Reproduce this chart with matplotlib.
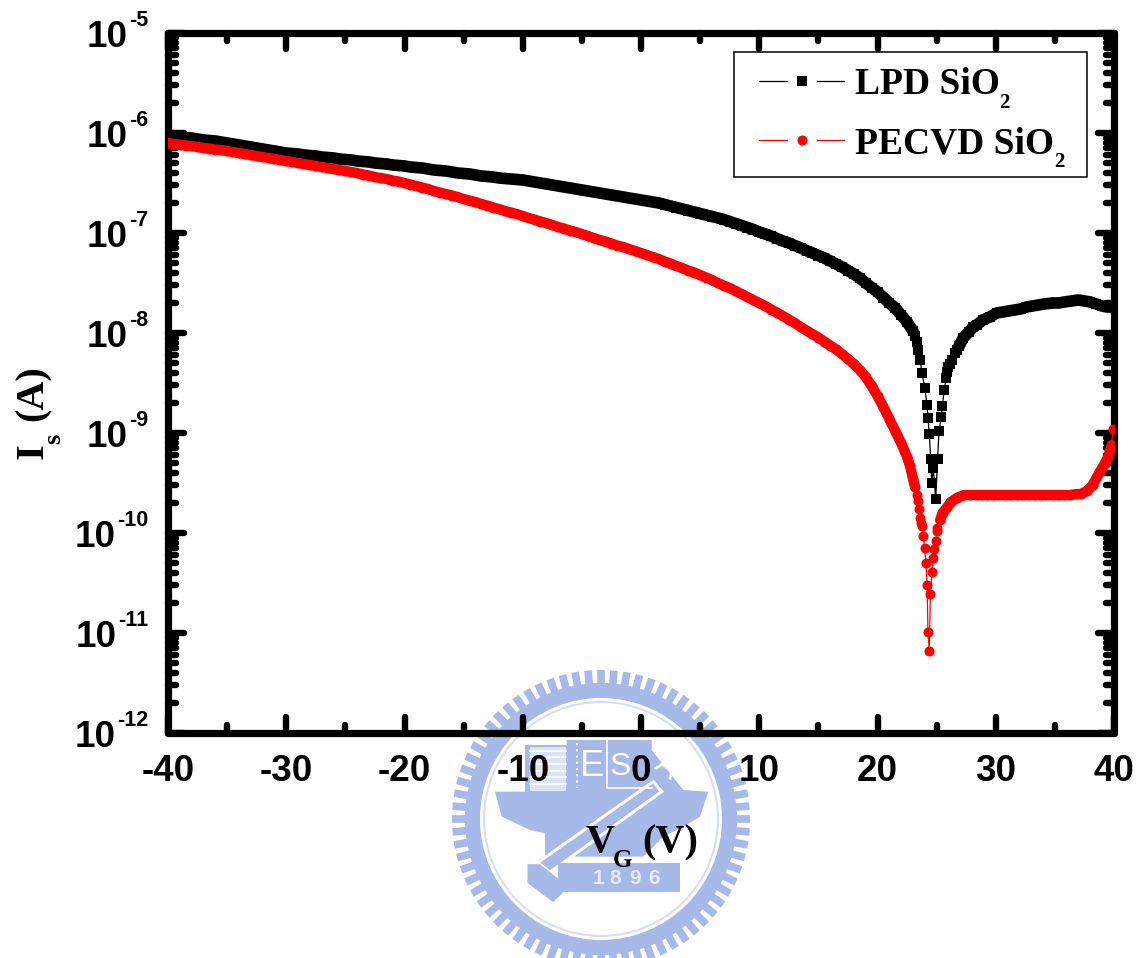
import numpy as np
import matplotlib
matplotlib.use('Agg')
import matplotlib.pyplot as plt
from matplotlib.lines import Line2D
from matplotlib.markers import MarkerStyle
from matplotlib.patches import Circle, Polygon, Rectangle
from matplotlib.ticker import FixedLocator, NullFormatter

W, H = 1142, 958
SANS = 'Liberation Sans'
SERIF = 'Liberation Serif'
BLUE = '#a6b9e8'

# gate sweep shared by both curves up to +20 V
vg_sweep = [-40, -39.5, -39, -38.5, -38, -37.5, -37, -36.5, -36, -35.5, -35, -34.5, -34, -33.5, -33, -32.5,
            -32, -31.5, -31, -30.5, -30, -29.5, -29, -28.5, -28, -27.5, -27, -26.5, -26, -25.5, -25, -24.5,
            -24, -23.5, -23, -22.5, -22, -21.5, -21, -20.5, -20, -19.5, -19, -18.5, -18, -17.5, -17, -16.5,
            -16, -15.5, -15, -14.5, -14, -13.5, -13, -12.5, -12, -11.5, -11, -10.5, -10, -9.5, -9, -8.5,
            -8, -7.5, -7, -6.5, -6, -5.5, -5, -4.5, -4, -3.5, -3, -2.5, -2, -1.5, -1, -0.5,
            0, 0.5, 1, 1.5, 2, 2.5, 3, 3.5, 4, 4.5, 5, 5.5, 6, 6.5, 7, 7.5,
            8, 8.5, 9, 9.5, 10, 10.5, 11, 11.5, 12, 12.5, 13, 13.5, 14, 14.5, 15, 15.5,
            16, 16.5, 17, 17.5, 18, 18.5, 19, 19.5, 20]

# values as log10(I) because the axis is decades
lpd_log = [-6.02, -6.03, -6.04, -6.045, -6.05, -6.06, -6.07, -6.075, -6.08, -6.09, -6.10, -6.11, -6.12, -6.13, -6.14, -6.15,
           -6.16, -6.17, -6.18, -6.19, -6.20, -6.205, -6.21, -6.22, -6.225, -6.23, -6.24, -6.245, -6.25, -6.26, -6.265, -6.27,
           -6.28, -6.285, -6.29, -6.30, -6.305, -6.31, -6.32, -6.325, -6.33, -6.34, -6.345, -6.35, -6.36, -6.37, -6.375, -6.38,
           -6.39, -6.40, -6.405, -6.41, -6.42, -6.43, -6.435, -6.44, -6.45, -6.455, -6.46, -6.465, -6.47, -6.48, -6.49, -6.50,
           -6.51, -6.52, -6.53, -6.54, -6.55, -6.56, -6.57, -6.58, -6.59, -6.60, -6.61, -6.62, -6.63, -6.64, -6.65, -6.66,
           -6.67, -6.68, -6.69, -6.70, -6.715, -6.73, -6.745, -6.76, -6.775, -6.79, -6.805, -6.82, -6.835, -6.85, -6.865, -6.885,
           -6.905, -6.925, -6.945, -6.965, -6.99, -7.01, -7.03, -7.055, -7.08, -7.10, -7.125, -7.15, -7.175, -7.20, -7.225, -7.25,
           -7.28, -7.31, -7.34, -7.375, -7.41, -7.45, -7.50, -7.545, -7.59]
lpd_vg_tail = [20.5, 21, 21.5, 22, 22.5, 23, 23.15, 23.3, 23.45, 23.6, 23.76, 24.0, 24.19, 24.27, 24.38, 24.5, 24.58, 24.72, 24.92,
               25.09, 25.2, 25.4, 25.48, 25.65, 25.8, 25.9, 25.99, 26.1, 26.3, 26.55, 26.7, 26.9, 27.25, 27.7, 28.1, 28.4, 28.9, 29.5, 30.08,
               30.6, 31.1, 31.6, 32.1, 32.6, 33.1, 33.6, 34.1, 34.8, 35.3, 35.8, 36.4, 37, 37.5, 38, 38.5, 39, 39.4, 39.7, 40]
lpd_log_tail = [-7.645, -7.70, -7.75, -7.82, -7.89, -7.98, -8.03, -8.09, -8.17, -8.27, -8.40, -8.55, -8.72, -8.85, -9.01, -9.26, -9.50, -9.35, -9.66,
                -9.26, -8.98, -8.84, -8.73, -8.57, -8.45, -8.39, -8.34, -8.31, -8.27, -8.20, -8.17, -8.13, -8.05, -7.99, -7.94, -7.92, -7.87, -7.84, -7.80,
                -7.79, -7.78, -7.77, -7.76, -7.74, -7.73, -7.72, -7.71, -7.70, -7.70, -7.69, -7.68, -7.67, -7.68, -7.69, -7.71, -7.73, -7.74, -7.74, -7.74]

pecvd_log = [-6.10, -6.11, -6.115, -6.125, -6.13, -6.14, -6.15, -6.155, -6.165, -6.17, -6.18, -6.19, -6.20, -6.21, -6.22, -6.23,
             -6.24, -6.25, -6.26, -6.27, -6.28, -6.29, -6.30, -6.31, -6.32, -6.33, -6.34, -6.35, -6.36, -6.37, -6.38, -6.39,
             -6.40, -6.415, -6.425, -6.44, -6.45, -6.46, -6.475, -6.485, -6.50, -6.515, -6.53, -6.545, -6.56, -6.58, -6.595, -6.61,
             -6.625, -6.64, -6.66, -6.675, -6.69, -6.71, -6.725, -6.745, -6.76, -6.78, -6.795, -6.81, -6.83, -6.85, -6.865, -6.885,
             -6.90, -6.92, -6.94, -6.955, -6.975, -6.99, -7.01, -7.03, -7.05, -7.07, -7.085, -7.105, -7.125, -7.14, -7.16, -7.18,
             -7.20, -7.22, -7.24, -7.26, -7.285, -7.305, -7.33, -7.35, -7.375, -7.395, -7.42, -7.445, -7.47, -7.50, -7.525, -7.55,
             -7.58, -7.61, -7.64, -7.67, -7.70, -7.73, -7.765, -7.795, -7.83, -7.865, -7.90, -7.94, -7.975, -8.01, -8.045, -8.085,
             -8.125, -8.165, -8.21, -8.26, -8.31, -8.37, -8.44, -8.53, -8.63]
pecvd_vg_tail = [20.5, 21, 21.5, 22, 22.5, 22.75, 23, 23.17, 23.3, 23.4, 23.5, 23.6, 23.7, 23.79, 23.87, 23.99, 24.1, 24.19, 24.27, 24.38,
                 24.47, 24.61, 24.72, 24.8, 24.92, 25.0, 25.06, 25.3, 25.5, 25.9, 26.2, 26.7, 27.3, 27.8, 28.3, 28.8, 29.3, 29.8,
                 30.3, 30.8, 31.3, 31.8, 32.3, 32.8, 33.3, 33.8, 34.3, 34.8, 35.3, 35.8, 36.3, 36.8, 37.2, 37.7, 38.2, 38.8,
                 39.2, 39.5, 39.7, 39.8, 39.9]
pecvd_log_tail = [-8.74, -8.86, -8.98, -9.10, -9.24, -9.33, -9.46, -9.54, -9.62, -9.68, -9.76, -9.85, -9.90, -9.93, -10.03, -10.15, -10.30, -10.52, -10.99, -11.18,
                  -10.61, -10.39, -10.25, -10.16, -10.08, -9.98, -9.95, -9.87, -9.80, -9.74, -9.69, -9.65, -9.62, -9.62, -9.62, -9.62, -9.62, -9.62,
                  -9.62, -9.62, -9.62, -9.62, -9.62, -9.62, -9.62, -9.62, -9.62, -9.62, -9.62, -9.62, -9.62, -9.61, -9.61, -9.58, -9.52, -9.39,
                  -9.31, -9.24, -9.17, -9.12, -8.96]

x_ticks = [-40, -30, -20, -10, 0, 10, 20, 30, 40]
x_minor = [-35, -25, -15, -5, 5, 15, 25, 35]
decades = [-12, -11, -10, -9, -8, -7, -6, -5]


def fx(x):
    return x / W


def fy(y):
    return 1 - y / H


def put(x, y, s, size, family=SERIF, **kw):
    return fig.text(fx(x), fy(y), s, fontsize=size, family=family, fontweight='bold',
                    va='baseline', color='black', **kw)


fig = plt.figure(figsize=(W / 100, H / 100), dpi=100)

# university watermark sits behind everything, drawn in pixel space
bg = fig.add_axes([0, 0, 1, 1], zorder=-1)
bg.set_xlim(0, W)
bg.set_ylim(H, 0)
bg.axis('off')
cx, cy = 601, 819


def z(x, y):
    # coordinates taken from the zoomed crop of the logo
    return 430 + x / 3, 660 + y / 3


bg.add_patch(Circle((cx, cy), 136, fc=BLUE, ec='none'))
bg.add_patch(Circle((cx, cy), 121, fc='white', ec='none'))
bg.add_patch(Circle((cx, cy), 117, fc='none', ec='#d5def4', lw=1.5))
for a in np.radians(np.arange(0, 360, 5)):
    bg.plot([cx + 134 * np.cos(a), cx + 149 * np.cos(a)], [cy + 134 * np.sin(a), cy + 149 * np.sin(a)],
            color=BLUE, lw=5.5, solid_capstyle='butt')

bowl = [(195, 395), (285, 395), (285, 255), (410, 255), (410, 240), (665, 240), (665, 270), (760, 390), (835, 395),
        (810, 470), (760, 500), (700, 530), (640, 590), (450, 590), (345, 590), (345, 520), (300, 510), (215, 470)]
bg.add_patch(Polygon([z(*p) for p in bowl], fc=BLUE, ec='none'))
bg.add_patch(Rectangle(z(300, 262), 36, 44, fc='#dbe3f6', ec='none'))
for yy in (272, 292, 312, 332, 352, 372):
    bg.plot(*zip(z(300, yy), z(408, yy)), color='white', lw=1.2)
bg.plot(*zip(z(440, 250), z(440, 385)), color='white', lw=1.5, ls=(0, (1, 2)))
bg.plot(*zip(z(530, 240), z(530, 385), z(665, 385)), color='white', lw=1.2)
bg.text(*z(487, 318), 'E', color='white', fontsize=26, family=SANS, ha='center', va='center')
bg.text(*z(570, 320), 'S', color='white', fontsize=23, family=SANS, ha='center', va='center')
bg.text(*z(708, 322), 'A', color='white', fontsize=23, family=SANS, ha='center', va='center', rotation=-35)
# diagonal bar and its handle
bar = [(320, 610), (670, 365), (695, 395), (355, 640)]
bg.add_patch(Polygon([z(*p) for p in bar], fc=BLUE, ec='white', lw=2.2))
handle = [(290, 610), (330, 610), (420, 680), (370, 730), (290, 670)]
bg.add_patch(Polygon([z(*p) for p in handle], fc=BLUE, ec='white', lw=1.2))
bg.add_patch(Rectangle(z(385, 610), (750 - 385) / 3, (695 - 610) / 3, fc=BLUE, ec='none'))
for xx, ch in zip((505, 557, 615, 672), '1896'):
    bg.text(*z(xx, 655), ch, color='#e6ebf8', fontsize=15, fontweight='bold', family=SANS, ha='center', va='center')

ax = fig.add_axes([168 / W, 1 - 733 / H, (1114 - 168) / W, (733 - 33) / H])
ax.patch.set_alpha(0)
ax.set_yscale('log')

lpd_vg = np.array(vg_sweep + lpd_vg_tail)
lpd_i = 10.0 ** np.array(lpd_log + lpd_log_tail)
pecvd_vg = np.array(vg_sweep + pecvd_vg_tail)
pecvd_i = 10.0 ** np.array(pecvd_log + pecvd_log_tail)

ax.plot(lpd_vg, lpd_i, '-', color='black', lw=0.9, marker='s', ms=6.7, mew=0, zorder=4)
ax.plot(pecvd_vg, pecvd_i, '-', color='red', lw=0.9, marker='o', ms=7.2, mew=0, zorder=5)

# the measured points are so dense they merge into a solid band away from the dip
ax.plot(lpd_vg, np.where((lpd_vg <= 23) | (lpd_vg >= 26.9), lpd_i, np.nan), color='black', lw=8.4,
        solid_capstyle='round', solid_joinstyle='round', zorder=4)
ax.plot(pecvd_vg, np.where((pecvd_vg <= 23.17) | ((pecvd_vg >= 25.3) & (pecvd_vg <= 39.8)), pecvd_i, np.nan),
        color='red', lw=7.4, solid_capstyle='round', solid_joinstyle='round', zorder=5)

ax.set_xlim(-40, 40)
ax.set_ylim(1e-12, 1e-5)
ax.xaxis.set_major_locator(FixedLocator(x_ticks))
ax.xaxis.set_minor_locator(FixedLocator(x_minor))
ax.yaxis.set_major_locator(FixedLocator([10.0 ** d for d in decades]))
ax.yaxis.set_minor_locator(FixedLocator([m * 10.0 ** d for d in decades[:-1] for m in range(2, 10)]))
ax.yaxis.set_major_formatter(NullFormatter())
ax.yaxis.set_minor_formatter(NullFormatter())
ax.set_xticklabels([str(t) for t in x_ticks], fontsize=26.5, fontweight='bold', family=SANS)
ax.tick_params(which='major', direction='in', length=11.5, width=4.6, top=True, right=True, pad=15)
ax.tick_params(which='minor', direction='in', length=5.8, width=4.6, top=True, right=True)
for s in ax.spines.values():
    s.set_linewidth(5.2)
    s.set_capstyle('round')

# origin style rounded tick ends
for axis in (ax.xaxis, ax.yaxis):
    for tick in axis.get_major_ticks() + axis.get_minor_ticks():
        for line in (tick.tick1line, tick.tick2line):
            line.set_marker(MarkerStyle(line.get_marker(), capstyle='round'))

# y tick labels: exponent right aligned, "10" butted up against it
fig.canvas.draw()
rend = fig.canvas.get_renderer()
for d in decades:
    y0 = 733 - (d + 12) * 100
    e = put(148, y0 - 6.5, str(d), 15.5, family=SANS, ha='right')
    left = e.get_window_extent(rend).x0
    put(left - 1, y0 + 14, '10', 26.5, family=SANS, ha='right')

# axis titles
put(585, 852, 'V', 29)
put(613, 867, 'G', 18)
put(642, 852, '(V)', 29)
put(43, 459, 'I', 29, rotation=90, rotation_mode='anchor')
put(60, 444, 's', 19, rotation=90, rotation_mode='anchor')
put(43, 421, '(A)', 29, rotation=90, rotation_mode='anchor')

# legend box
fig.add_artist(Rectangle((fx(734), fy(177)), 353 / W, 125 / H, transform=fig.transFigure,
                         fc='white', ec='black', lw=1.1, zorder=6))
for yy, col, mk, ms in ((81, 'black', 's', 6.7), (140, 'red', 'o', 7.2)):
    for a, b in ((759, 787), (817, 844)):
        fig.add_artist(Line2D([fx(a), fx(b)], [fy(yy), fy(yy)], color=col, lw=0.9, zorder=7))
    fig.add_artist(Line2D([fx(802)], [fy(yy)], color=col, marker=mk, ms=ms, mew=0, zorder=7))
for t in [put(855, 94, 'LPD SiO', 27), put(999, 108, '2', 15),
          put(855, 153, 'PECVD SiO', 27), put(1054, 167, '2', 15)]:
    t.set_zorder(8)

fig.savefig('out.png', dpi=100)
